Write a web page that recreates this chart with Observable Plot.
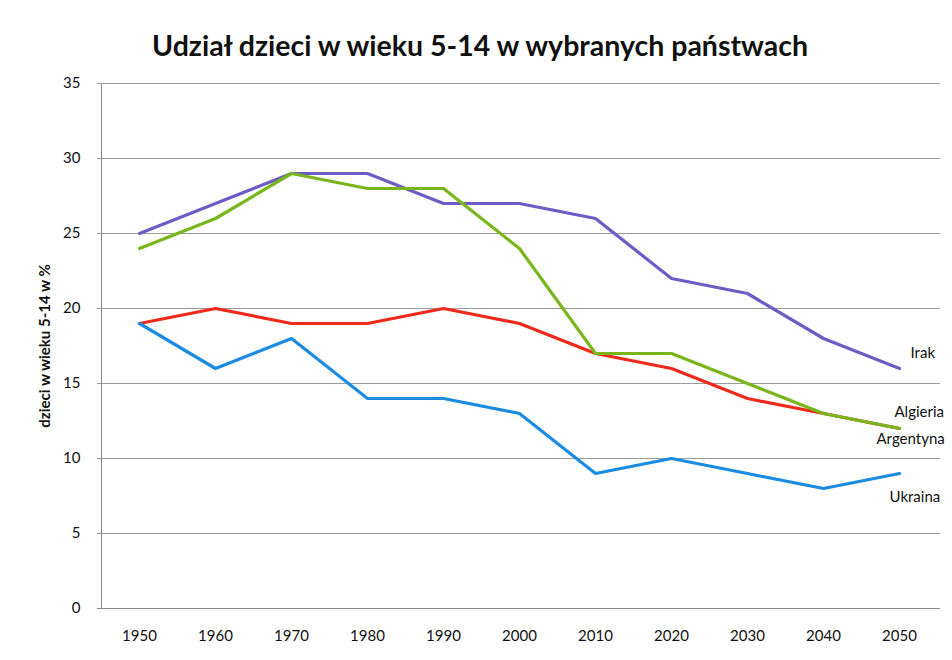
<!DOCTYPE html>
<html><head><meta charset="utf-8">
<script src="https://cdn.jsdelivr.net/npm/d3@7"></script>
<script src="https://cdn.jsdelivr.net/npm/@observablehq/plot@0.6"></script>
<style>
body{margin:0;background:#fff;font-family:Lato,"Open Sans",sans-serif;}
#title{box-sizing:border-box;height:70px;padding-top:20px;line-height:50px;text-align:center;font-weight:bold;font-size:28.5px;color:#111;padding-left:8px;}
</style></head><body>
<div id="title">Udział dzieci w wieku 5-14 w wybranych państwach</div>
<div id="chart"></div>
<script>
const years = [1950, 1960, 1970, 1980, 1990, 2000, 2010, 2020, 2030, 2040, 2050];
const irak      = [25, 27, 29, 29, 27, 27, 26, 22, 21, 18, 16];
const algieria  = [24, 26, 29, 28, 28, 24, 17, 17, 15, 13, 12];
const argentyna = [19, 20, 19, 19, 20, 19, 17, 16, 14, 13, 12];
const ukraina   = [19, 16, 18, 14, 14, 13, 9, 10, 9, 8, 9];
const yTicks = [0, 5, 10, 15, 20, 25, 30, 35];

const series = [
  {name: "Irak", values: irak, color: "#6e5cc6", dx: 11, dy: -15},
  {name: "Argentyna", values: argentyna, color: "#ee2a1c", dx: -23, dy: 11},
  {name: "Algieria", values: algieria, color: "#79b61c", dx: -5, dy: -16},
  {name: "Ukraina", values: ukraina, color: "#1c8ce0", dx: -10, dy: 24}
];
const rows = series.flatMap(s => years.map((yr, i) => ({country: s.name, year: yr, value: s.values[i]})));

const marks = [
  Plot.gridY(yTicks, {stroke: "#9a9a9a", strokeOpacity: 1, strokeWidth: 1}),
  Plot.ruleY([0], {stroke: "#8a8a8a"}),
  Plot.ruleX([years[0]], {stroke: "#8a8a8a", dx: -38, y1: 0, y2: 35}),
  Plot.axisY(yTicks, {tickSize: 0, tickPadding: 17, fontSize: 15, label: null, fill: "#111"}),
  Plot.axisY({ticks: [], label: "dzieci w wieku 5-14 w %", labelAnchor: "center", labelArrow: "none", labelOffset: 58, fontWeight: "bold", fontSize: 15, fill: "#111"}),
  Plot.axisX(years, {tickSize: 0, tickPadding: 22, fontSize: 15, label: null, tickFormat: d => String(d), fill: "#111"})
];
for (const s of series) {
  marks.push(Plot.line(rows.filter(r => r.country === s.name), {x: "year", y: "value", stroke: s.color, strokeWidth: 3.2, strokeLinejoin: "round"}));
}
for (const s of series) {
  marks.push(Plot.text([{year: years[years.length - 1], value: s.values[s.values.length - 1], name: s.name}],
    {x: "year", y: "value", text: "name", textAnchor: "start", dx: s.dx, dy: s.dy, fontSize: 15, fill: "#111"}));
}

const chart = Plot.plot({
  width: 952,
  height: 590,
  marginLeft: 97,
  marginRight: 12,
  marginTop: 13,
  marginBottom: 52,
  style: {fontFamily: "Lato, 'Open Sans', sans-serif", background: "#fff", overflow: "visible"},
  x: {type: "point", domain: years, padding: 0.5},
  y: {domain: [0, 35]},
  marks
});
document.getElementById("chart").appendChild(chart);
</script>
</body></html>
